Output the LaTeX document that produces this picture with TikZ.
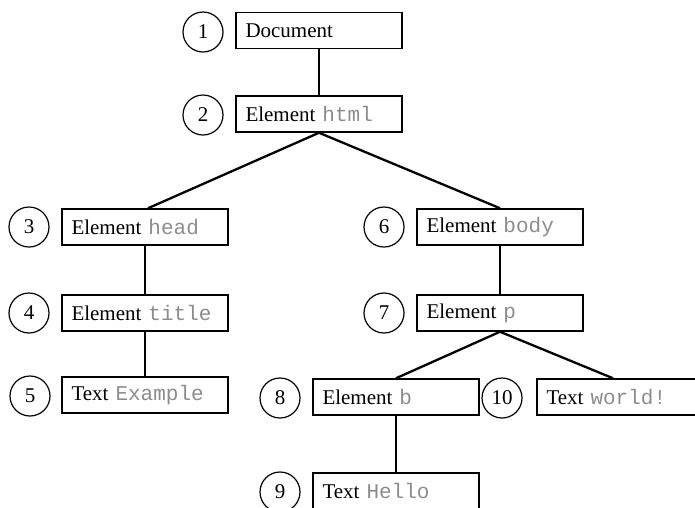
\documentclass[tikz,border=0pt]{standalone}
\usepackage{fontspec}
\setmainfont{Liberation Serif}
\setmonofont{Liberation Mono}
\begin{document}
\begin{tikzpicture}[x=1pt,y=-1pt,
  box/.style={draw,line width=1.5pt,rectangle,minimum height=36pt,text width=147pt,inner xsep=9.5pt,inner ysep=0pt,align=left,font=\fontsize{21}{25}\selectfont},
  num/.style={draw,line width=1.2pt,circle,minimum size=40pt,inner sep=0pt,font=\fontsize{21}{25}\selectfont},
  edge/.style={line width=2.3pt}]
\newcommand{\cd}[1]{\textcolor{black!45}{\texttt{#1}}}
\useasboundingbox (0,0) rectangle (695,507);
\clip (0,0) rectangle (695,507);
\node[box] (b1) at (319,30.5) {Document};
\node[box] (b2) at (319,114) {Element \cd{html}};
\node[box] (b3) at (145,227) {Element \cd{head}};
\node[box] (b4) at (145,313) {Element \cd{title}};
\node[box] (b5) at (145,395) {Text \cd{Example}};
\node[box] (b6) at (500,227) {Element \cd{body}};
\node[box] (b7) at (500,313) {Element \cd{p}};
\node[box] (b8) at (396,397) {Element \cd{b}};
\node[box] (b10) at (620,397) {Text \cd{world!}};
\node[box] (b9) at (396,491) {Text \cd{Hello}};
\node[num] (n1) at (203,32) {1};
\node[num] (n2) at (203,115) {2};
\node[num] (n3) at (29,227) {3};
\node[num] (n4) at (29,313) {4};
\node[num] (n5) at (30,396) {5};
\node[num] (n6) at (384,227) {6};
\node[num] (n7) at (384,313) {7};
\node[num] (n8) at (280,398) {8};
\node[num] (n10) at (502,398) {10};
\node[num] (n9) at (280,492) {9};
\draw[edge] (b1.south) -- (b2.north);
\draw[edge] (b2.south) -- ([xshift=3pt]b3.north);
\draw[edge] (b2.south) -- (b6.north);
\draw[edge] (b3.south) -- (b4.north);
\draw[edge] (b4.south) -- (b5.north);
\draw[edge] (b6.south) -- (b7.north);
\draw[edge] (b7.south) -- (b8.north);
\draw[edge] (b7.south) -- ([xshift=-7pt]b10.north);
\draw[edge] (b8.south) -- (b9.north);
\end{tikzpicture}
\end{document}
